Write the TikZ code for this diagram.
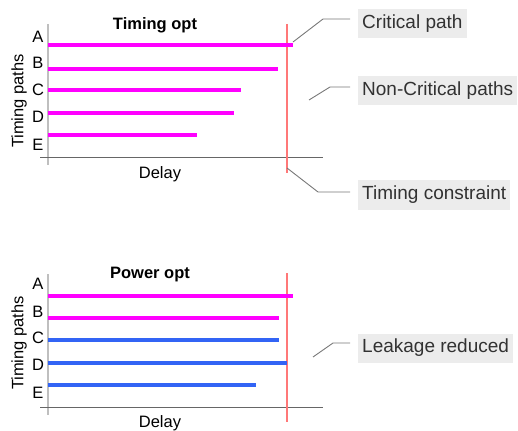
\documentclass[tikz,border=0pt]{standalone}
\usepackage{fontspec}
\setmainfont{Liberation Sans}
\definecolor{barmag}{RGB}{255,0,255}
\definecolor{barblue}{RGB}{50,100,245}
\definecolor{constraintred}{RGB}{255,120,120}
\definecolor{calloutbg}{RGB}{236,236,236}
\definecolor{callouttxt}{RGB}{50,50,50}
\definecolor{leadergray}{RGB}{120,120,120}
\tikzset{
  chartfont/.style={font=\fontsize{16.5}{18}\selectfont},
  titlefont/.style={font=\fontsize{16.5}{18}\selectfont\bfseries},
  callout/.style={fill=calloutbg, text=callouttxt, anchor=west, inner xsep=4pt,
    minimum height=29pt, font=\fontsize{19}{21}\selectfont},
  leader/.style={draw=leadergray, line width=0.9pt},
  yaxis/.style={draw=black!25, line width=1.6pt},
  xaxis/.style={draw=black!60, line width=1pt},
  constraintline/.style={color=constraintred, line width=1.1pt},
  pathbar/.style={line width=4pt},
}
\begin{document}
\begin{tikzpicture}[x=1pt, y=-1pt]
\useasboundingbox (0,0) rectangle (518,430);

% ---------- upper chart: timing optimisation ----------
\draw[yaxis] (48,24) -- (48,165);
\draw[xaxis] (40,158) -- (323,158);
\draw[constraintline] (287,24) -- (287,173);

\node[titlefont] (t1) at (155,25) {Timing opt};
\node[chartfont, rotate=90] (yl1) at (19,101) {Timing paths};
\node[chartfont] (xl1) at (160,174) {Delay};

\node[chartfont] (a1) at (38,37) {A};
\node[chartfont] (b1) at (38,63) {B};
\node[chartfont] (c1) at (38,90) {C};
\node[chartfont] (d1) at (38,117) {D};
\node[chartfont] (e1) at (38,145) {E};

\draw[pathbar, barmag] (48,45) -- (293,45);
\draw[pathbar, barmag] (48,69) -- (278,69);
\draw[pathbar, barmag] (48,90) -- (241,90);
\draw[pathbar, barmag] (48,113) -- (234,113);
\draw[pathbar, barmag] (48,135) -- (197,135);

\node[callout] (crit) at (358,24) {Critical path};
\node[callout] (noncrit) at (358,90.5) {Non-Critical paths};
\node[callout] (constr) at (358,195) {Timing constraint};

\coordinate (critpt) at (293,42);
\coordinate (noncritpt) at (309,100);
\coordinate (constrpt) at (287,168);
\draw[leader] (critpt) -- (323,19) -- (350,19);
\draw[leader] (noncritpt) -- (330,87) -- (350,87);
\draw[leader] (constrpt) -- (318,192) -- (350,192);

% ---------- lower chart: power optimisation ----------
\draw[yaxis] (48,274) -- (48,415);
\draw[xaxis] (40,407) -- (323,407);
\draw[constraintline] (287,273) -- (287,422);

\node[titlefont] (t2) at (150,275) {Power opt};
\node[chartfont, rotate=90] (yl2) at (19,343) {Timing paths};
\node[chartfont] (xl2) at (160,423) {Delay};

\node[chartfont] (a2) at (38,284) {A};
\node[chartfont] (b2) at (38,312) {B};
\node[chartfont] (c2) at (38,338) {C};
\node[chartfont] (d2) at (38,365) {D};
\node[chartfont] (e2) at (38,393) {E};

\draw[pathbar, barmag] (48,296) -- (293,296);
\draw[pathbar, barmag] (48,318) -- (279,318);
\draw[pathbar, barblue] (48,340) -- (279,340);
\draw[pathbar, barblue] (48,363) -- (287,363);
\draw[pathbar, barblue] (48,385) -- (256,385);

\node[callout] (leak) at (358,348) {Leakage reduced};
\coordinate (leakpt) at (313,357);
\draw[leader] (leakpt) -- (333,343) -- (350,343);
\end{tikzpicture}
\end{document}
